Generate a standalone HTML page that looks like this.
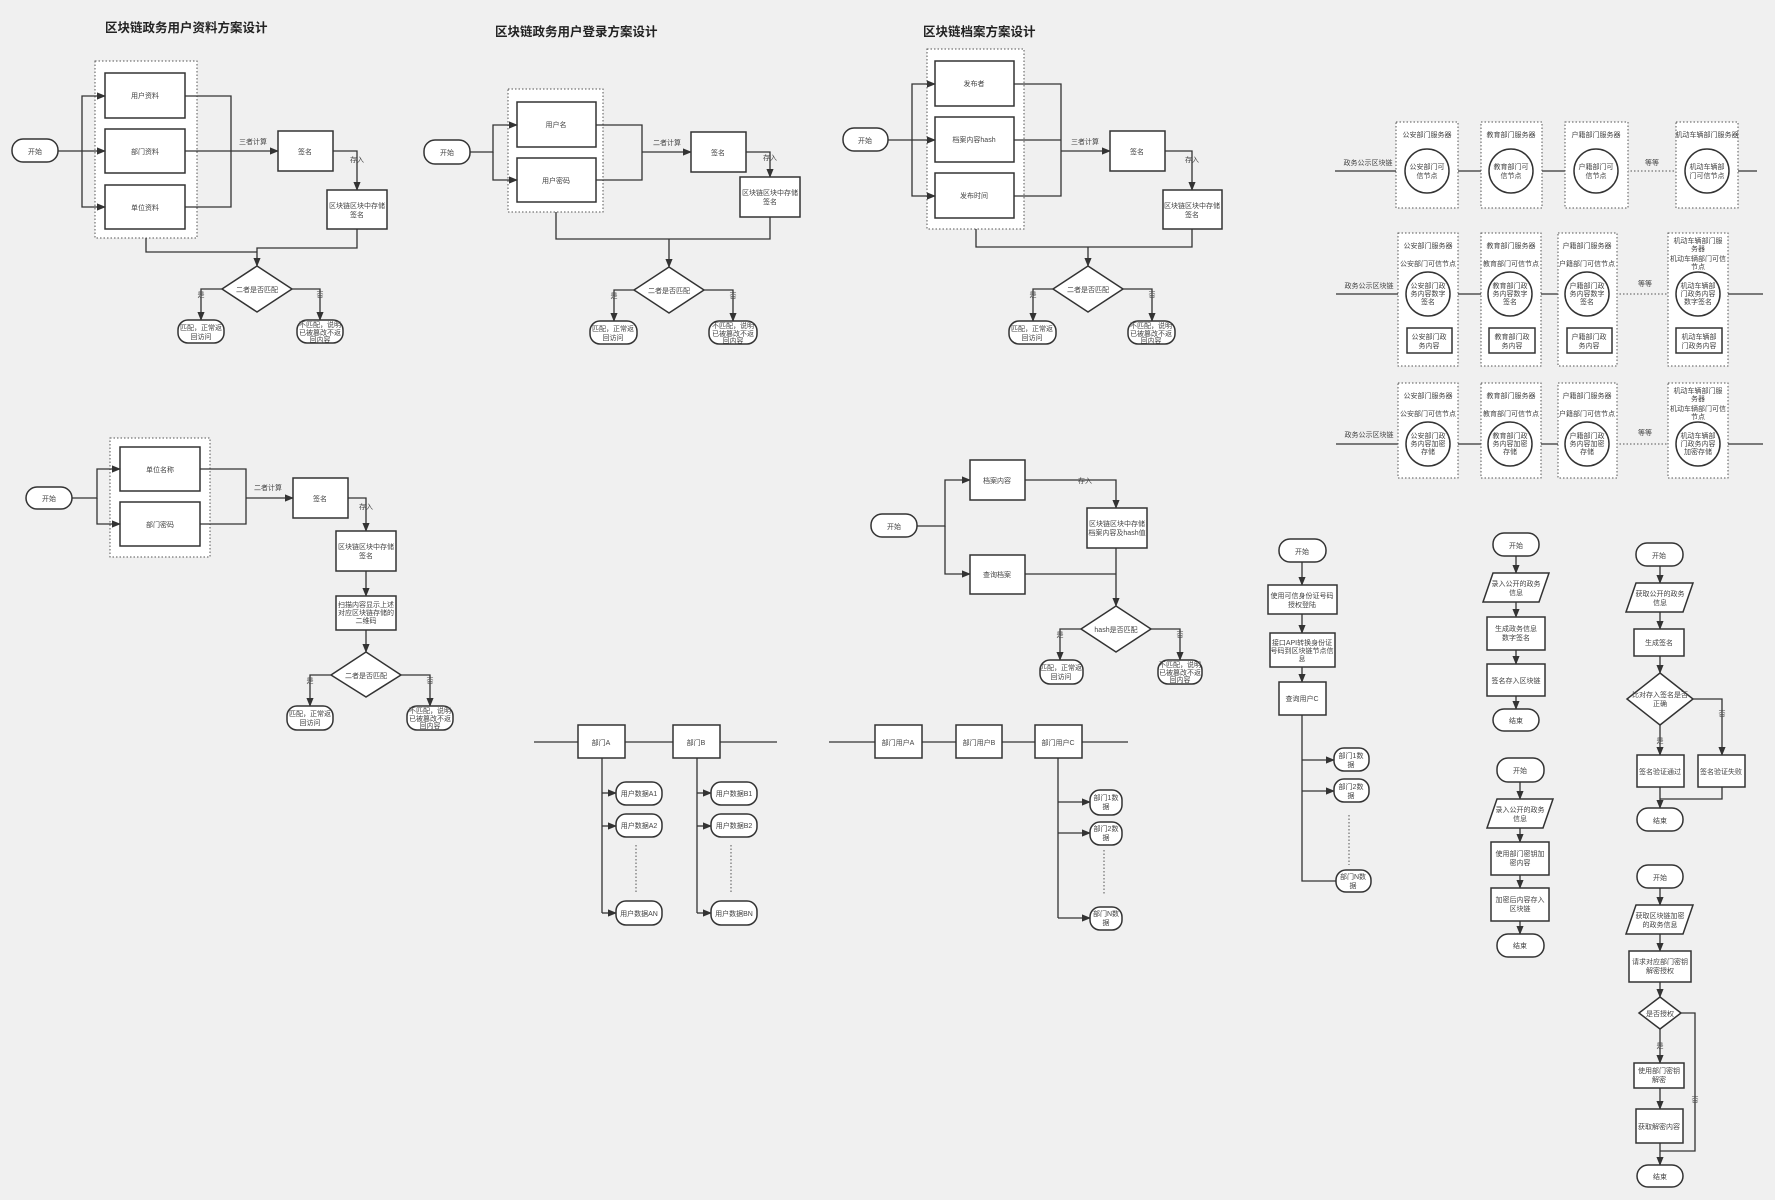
<!DOCTYPE html>
<html><head><meta charset="utf-8"><style>
html,body{margin:0;padding:0;background:#f0f0f0;}
svg{display:block;font-family:"Liberation Sans","Noto Sans CJK SC",sans-serif;}
.b{fill:#fff;stroke:#333;stroke-width:1.5}
.d{fill:#fff;stroke:#555;stroke-width:1;stroke-dasharray:1.5 2}
.l{fill:none;stroke:#333;stroke-width:1.3}
.dl{fill:none;stroke:#555;stroke-width:1;stroke-dasharray:1.5 2}
text{font-size:7px;fill:#444;text-anchor:middle}
.t{font-size:12.5px;font-weight:bold;fill:#222;text-anchor:start}
</style></head><body>
<svg width="1775" height="1200" viewBox="0 0 1775 1200" xmlns="http://www.w3.org/2000/svg">
<defs><marker id="a" viewBox="0 0 10 10" refX="9" refY="5" markerWidth="7" markerHeight="7" orient="auto"><path d="M0,1L10,5L0,9z" fill="#333"/></marker></defs>
<rect width="1775" height="1200" fill="#f0f0f0"/>

<!-- Section 1 -->
<text class="t" x="105" y="32">区块链政务用户资料方案设计</text>
<rect class="d" x="95" y="61" width="102" height="177"/>
<rect class="b" x="105" y="73" width="80" height="45"/><text x="145" y="98">用户资料</text>
<rect class="b" x="105" y="129" width="80" height="44"/><text x="145" y="154">部门资料</text>
<rect class="b" x="105" y="185" width="80" height="44"/><text x="145" y="210">单位资料</text>
<rect class="b" x="12" y="139" width="46" height="23" rx="11"/><text x="35" y="154">开始</text>
<path class="l" d="M58,151H105" marker-end="url(#a)"/>
<path class="l" d="M82,151V96H105" marker-end="url(#a)"/>
<path class="l" d="M82,151V207H105" marker-end="url(#a)"/>
<path class="l" d="M185,96H231V207H185M185,151H278" marker-end="url(#a)"/>
<text x="253" y="144">三者计算</text>
<rect class="b" x="278" y="131" width="55" height="40"/><text x="305" y="154">签名</text>
<path class="l" d="M333,151H357V190" marker-end="url(#a)"/>
<text x="357" y="162">存入</text>
<rect class="b" x="327" y="190" width="60" height="39"/><text x="357" y="208">区块链区块中存储</text><text x="357" y="217">签名</text>
<path class="l" d="M146,238V252H257M357,229V248H257V266" marker-end="url(#a)"/>
<path class="b" d="M257,266L292,289L257,312L222,289z"/><text x="257" y="292">二者是否匹配</text>
<path class="l" d="M222,289H201V320" marker-end="url(#a)"/><text x="201" y="297">是</text>
<path class="l" d="M292,289H320V320" marker-end="url(#a)"/><text x="320" y="297">否</text>
<rect class="b" x="178" y="320" width="46" height="23" rx="10"/><text x="201" y="330">匹配，正常返</text><text x="201" y="339">回访问</text>
<rect class="b" x="297" y="320" width="46" height="23" rx="10"/><text x="320" y="327">不匹配，说明</text><text x="320" y="335">已被篡改不返</text><text x="320" y="342">回内容</text>

<!-- Section 2 -->
<text class="t" x="495" y="36">区块链政务用户登录方案设计</text>
<rect class="d" x="508" y="89" width="95" height="123"/>
<rect class="b" x="517" y="102" width="79" height="45"/><text x="556" y="127">用户名</text>
<rect class="b" x="517" y="158" width="79" height="44"/><text x="556" y="183">用户密码</text>
<rect class="b" x="424" y="140" width="46" height="24" rx="11"/><text x="447" y="155">开始</text>
<path class="l" d="M470,152H493V125H517" marker-end="url(#a)"/>
<path class="l" d="M493,152V180H517" marker-end="url(#a)"/>
<path class="l" d="M596,125H642V180H596M642,152H691" marker-end="url(#a)"/>
<text x="667" y="145">二者计算</text>
<rect class="b" x="691" y="132" width="55" height="40"/><text x="718" y="155">签名</text>
<path class="l" d="M746,152H770V177" marker-end="url(#a)"/>
<text x="770" y="160">存入</text>
<rect class="b" x="740" y="177" width="60" height="40"/><text x="770" y="195">区块链区块中存储</text><text x="770" y="204">签名</text>
<path class="l" d="M556,212V239H669M770,217V239H669V267" marker-end="url(#a)"/>
<path class="b" d="M669,267L704,290L669,313L634,290z"/><text x="669" y="293">二者是否匹配</text>
<path class="l" d="M634,290H614V321" marker-end="url(#a)"/><text x="614" y="298">是</text>
<path class="l" d="M704,290H733V321" marker-end="url(#a)"/><text x="733" y="298">否</text>
<rect class="b" x="590" y="321" width="47" height="23" rx="10"/><text x="613" y="331">匹配，正常返</text><text x="613" y="340">回访问</text>
<rect class="b" x="709" y="321" width="48" height="23" rx="10"/><text x="733" y="328">不匹配，说明</text><text x="733" y="336">已被篡改不返</text><text x="733" y="343">回内容</text>

<!-- Section 3 -->
<text class="t" x="923" y="36">区块链档案方案设计</text>
<rect class="d" x="927" y="49" width="97" height="180"/>
<rect class="b" x="935" y="61" width="79" height="45"/><text x="974" y="86">发布者</text>
<rect class="b" x="935" y="117" width="79" height="45"/><text x="974" y="142">档案内容hash</text>
<rect class="b" x="935" y="173" width="79" height="45"/><text x="974" y="198">发布时间</text>
<rect class="b" x="843" y="128" width="45" height="23" rx="11"/><text x="865" y="143">开始</text>
<path class="l" d="M888,140H935" marker-end="url(#a)"/>
<path class="l" d="M912,140V84H935" marker-end="url(#a)"/>
<path class="l" d="M912,140V196H935" marker-end="url(#a)"/>
<path class="l" d="M1014,84H1061V196H1014M1014,140H1061V151H1110" marker-end="url(#a)"/>
<text x="1085" y="144">三者计算</text>
<rect class="b" x="1110" y="131" width="55" height="40"/><text x="1137" y="154">签名</text>
<path class="l" d="M1165,151H1192V190" marker-end="url(#a)"/>
<text x="1192" y="162">存入</text>
<rect class="b" x="1163" y="190" width="59" height="39"/><text x="1192" y="208">区块链区块中存储</text><text x="1192" y="217">签名</text>
<path class="l" d="M976,229V247H1088M1192,229V247H1088V266" marker-end="url(#a)"/>
<path class="b" d="M1088,266L1123,289L1088,312L1053,289z"/><text x="1088" y="292">二者是否匹配</text>
<path class="l" d="M1053,289H1033V321" marker-end="url(#a)"/><text x="1033" y="297">是</text>
<path class="l" d="M1123,289H1152V321" marker-end="url(#a)"/><text x="1152" y="297">否</text>
<rect class="b" x="1009" y="321" width="47" height="23" rx="10"/><text x="1032" y="331">匹配，正常返</text><text x="1032" y="340">回访问</text>
<rect class="b" x="1128" y="321" width="47" height="23" rx="10"/><text x="1151" y="328">不匹配，说明</text><text x="1151" y="336">已被篡改不返</text><text x="1151" y="343">回内容</text>

<!-- Section 4 -->
<rect class="d" x="110" y="438" width="100" height="119"/>
<rect class="b" x="120" y="447" width="80" height="44"/><text x="160" y="472">单位名称</text>
<rect class="b" x="120" y="502" width="80" height="44"/><text x="160" y="527">部门密码</text>
<rect class="b" x="26" y="487" width="46" height="22" rx="11"/><text x="49" y="501">开始</text>
<path class="l" d="M72,498H97V469H120" marker-end="url(#a)"/>
<path class="l" d="M97,498V524H120" marker-end="url(#a)"/>
<path class="l" d="M200,469H246V524H200M246,498H293" marker-end="url(#a)"/>
<text x="268" y="490">二者计算</text>
<rect class="b" x="293" y="478" width="55" height="40"/><text x="320" y="501">签名</text>
<path class="l" d="M348,498H366V531" marker-end="url(#a)"/>
<text x="366" y="509">存入</text>
<rect class="b" x="336" y="531" width="60" height="40"/><text x="366" y="549">区块链区块中存储</text><text x="366" y="558">签名</text>
<path class="l" d="M366,571V596" marker-end="url(#a)"/>
<rect class="b" x="336" y="596" width="60" height="34"/><text x="366" y="607">扫描内容显示上述</text><text x="366" y="615">对应区块链存储的</text><text x="366" y="623">二维码</text>
<path class="l" d="M366,630V652" marker-end="url(#a)"/>
<path class="b" d="M366,652L401,675L366,697L331,675z"/><text x="366" y="678">二者是否匹配</text>
<path class="l" d="M331,675H310V706" marker-end="url(#a)"/><text x="310" y="683">是</text>
<path class="l" d="M401,675H430V706" marker-end="url(#a)"/><text x="430" y="683">否</text>
<rect class="b" x="287" y="706" width="46" height="24" rx="10"/><text x="310" y="716">匹配，正常返</text><text x="310" y="725">回访问</text>
<rect class="b" x="407" y="706" width="46" height="24" rx="10"/><text x="430" y="713">不匹配，说明</text><text x="430" y="721">已被篡改不返</text><text x="430" y="728">回内容</text>

<!-- Section 5 -->
<rect class="b" x="871" y="514" width="46" height="23" rx="11"/><text x="894" y="529">开始</text>
<path class="l" d="M917,526H945V480H970" marker-end="url(#a)"/>
<path class="l" d="M945,526V574H970" marker-end="url(#a)"/>
<rect class="b" x="970" y="460" width="55" height="40"/><text x="997" y="483">档案内容</text>
<rect class="b" x="970" y="555" width="55" height="39"/><text x="997" y="577">查询档案</text>
<path class="l" d="M1025,480H1116V508" marker-end="url(#a)"/>
<text x="1085" y="483">存入</text>
<rect class="b" x="1087" y="508" width="60" height="40"/><text x="1117" y="526">区块链区块中存储</text><text x="1117" y="535">档案内容及hash值</text>
<path class="l" d="M1025,574H1116M1116,548V606" marker-end="url(#a)"/>
<path class="b" d="M1116,606L1151,629L1116,652L1081,629z"/><text x="1116" y="632">hash是否匹配</text>
<path class="l" d="M1081,629H1060V660" marker-end="url(#a)"/><text x="1060" y="637">是</text>
<path class="l" d="M1151,629H1180V660" marker-end="url(#a)"/><text x="1180" y="637">否</text>
<rect class="b" x="1040" y="660" width="43" height="24" rx="10"/><text x="1061" y="670">匹配，正常返</text><text x="1061" y="679">回访问</text>
<rect class="b" x="1158" y="660" width="44" height="24" rx="10"/><text x="1180" y="667">不匹配，说明</text><text x="1180" y="675">已被篡改不返</text><text x="1180" y="682">回内容</text>

<!-- Section 6 -->
<path class="l" d="M534,742H777"/>
<rect class="b" x="578" y="725" width="47" height="33"/><text x="601" y="745">部门A</text>
<rect class="b" x="673" y="725" width="47" height="33"/><text x="696" y="745">部门B</text>
<path class="l" d="M602,758V913"/>
<path class="l" d="M602,793H616" marker-end="url(#a)"/><path class="l" d="M602,826H616" marker-end="url(#a)"/><path class="l" d="M602,913H616" marker-end="url(#a)"/>
<rect class="b" x="616" y="782" width="46" height="23" rx="10"/><text x="639" y="796">用户数据A1</text>
<rect class="b" x="616" y="814" width="46" height="23" rx="10"/><text x="639" y="828">用户数据A2</text>
<rect class="b" x="616" y="901" width="46" height="24" rx="10"/><text x="639" y="916">用户数据AN</text>
<path class="dl" d="M636,845V893"/>
<path class="l" d="M697,758V913"/>
<path class="l" d="M697,793H711" marker-end="url(#a)"/><path class="l" d="M697,826H711" marker-end="url(#a)"/><path class="l" d="M697,913H711" marker-end="url(#a)"/>
<rect class="b" x="711" y="782" width="46" height="23" rx="10"/><text x="734" y="796">用户数据B1</text>
<rect class="b" x="711" y="814" width="46" height="23" rx="10"/><text x="734" y="828">用户数据B2</text>
<rect class="b" x="711" y="901" width="46" height="24" rx="10"/><text x="734" y="916">用户数据BN</text>
<path class="dl" d="M731,845V893"/>

<!-- Section 7 -->
<path class="l" d="M829,742H1128"/>
<rect class="b" x="875" y="725" width="47" height="33"/><text x="898" y="745">部门用户A</text>
<rect class="b" x="956" y="725" width="46" height="33"/><text x="979" y="745">部门用户B</text>
<rect class="b" x="1035" y="725" width="47" height="33"/><text x="1058" y="745">部门用户C</text>
<path class="l" d="M1058,758V918"/>
<path class="l" d="M1058,802H1090" marker-end="url(#a)"/><path class="l" d="M1058,833H1090" marker-end="url(#a)"/><path class="l" d="M1058,918H1090" marker-end="url(#a)"/>
<rect class="b" x="1090" y="790" width="32" height="25" rx="10"/><text x="1106" y="800">部门1数</text><text x="1106" y="809">据</text>
<rect class="b" x="1090" y="822" width="32" height="23" rx="10"/><text x="1106" y="831">部门2数</text><text x="1106" y="840">据</text>
<rect class="b" x="1090" y="907" width="32" height="23" rx="10"/><text x="1106" y="916">部门N数</text><text x="1106" y="925">据</text>
<path class="dl" d="M1104,850V895"/>

<!-- Section 8 col A -->
<rect class="b" x="1279" y="539" width="47" height="23" rx="11"/><text x="1302" y="554">开始</text>
<path class="l" d="M1302,562V585" marker-end="url(#a)"/>
<rect class="b" x="1268" y="585" width="69" height="29"/><text x="1302" y="598">使用可信身份证号码</text><text x="1302" y="607">授权登陆</text>
<path class="l" d="M1302,614V633" marker-end="url(#a)"/>
<rect class="b" x="1270" y="633" width="65" height="34"/><text x="1302" y="645">接口API转换身份证</text><text x="1302" y="653">号码到区块链节点信</text><text x="1302" y="661">息</text>
<path class="l" d="M1302,667V682" marker-end="url(#a)"/>
<rect class="b" x="1279" y="682" width="47" height="33"/><text x="1302" y="701">查询用户C</text>
<path class="l" d="M1302,715V881H1336"/>
<path class="l" d="M1302,760H1334" marker-end="url(#a)"/><path class="l" d="M1302,791H1334" marker-end="url(#a)"/>
<rect class="b" x="1334" y="748" width="35" height="23" rx="10"/><text x="1351" y="758">部门1数</text><text x="1351" y="767">据</text>
<rect class="b" x="1334" y="779" width="35" height="23" rx="10"/><text x="1351" y="789">部门2数</text><text x="1351" y="798">据</text>
<rect class="b" x="1336" y="870" width="35" height="22" rx="10"/><text x="1353" y="879">部门N数</text><text x="1353" y="888">据</text>
<path class="dl" d="M1349,815V865"/>

<!-- col B -->
<rect class="b" x="1493" y="533" width="46" height="23" rx="11"/><text x="1516" y="548">开始</text>
<path class="l" d="M1516,556V573" marker-end="url(#a)"/>
<path class="b" d="M1493,573H1549L1539,602H1483z"/><text x="1516" y="586">录入公开的政务</text><text x="1516" y="595">信息</text>
<path class="l" d="M1516,602V617" marker-end="url(#a)"/>
<rect class="b" x="1487" y="617" width="58" height="33"/><text x="1516" y="631">生成政务信息</text><text x="1516" y="640">数字签名</text>
<path class="l" d="M1516,650V664" marker-end="url(#a)"/>
<rect class="b" x="1487" y="664" width="58" height="32"/><text x="1516" y="683">签名存入区块链</text>
<path class="l" d="M1516,696V709" marker-end="url(#a)"/>
<rect class="b" x="1493" y="709" width="46" height="22" rx="11"/><text x="1516" y="723">结束</text>

<rect class="b" x="1497" y="758" width="47" height="24" rx="11"/><text x="1520" y="773">开始</text>
<path class="l" d="M1520,782V799" marker-end="url(#a)"/>
<path class="b" d="M1497,799H1553L1543,828H1487z"/><text x="1520" y="812">录入公开的政务</text><text x="1520" y="821">信息</text>
<path class="l" d="M1520,828V842" marker-end="url(#a)"/>
<rect class="b" x="1491" y="842" width="58" height="33"/><text x="1520" y="856">使用部门密钥加</text><text x="1520" y="865">密内容</text>
<path class="l" d="M1520,875V888" marker-end="url(#a)"/>
<rect class="b" x="1491" y="888" width="58" height="33"/><text x="1520" y="902">加密后内容存入</text><text x="1520" y="911">区块链</text>
<path class="l" d="M1520,921V934" marker-end="url(#a)"/>
<rect class="b" x="1497" y="934" width="47" height="23" rx="11"/><text x="1520" y="948">结束</text>

<!-- col C -->
<rect class="b" x="1636" y="543" width="47" height="23" rx="11"/><text x="1659" y="558">开始</text>
<path class="l" d="M1660,566V583" marker-end="url(#a)"/>
<path class="b" d="M1636,583H1693L1683,612H1626z"/><text x="1660" y="596">获取公开的政务</text><text x="1660" y="605">信息</text>
<path class="l" d="M1660,612V629" marker-end="url(#a)"/>
<rect class="b" x="1634" y="629" width="50" height="27"/><text x="1659" y="645">生成签名</text>
<path class="l" d="M1660,656V673" marker-end="url(#a)"/>
<path class="b" d="M1660,673L1693,699L1660,725L1627,699z"/><text x="1660" y="697">比对存入签名是否</text><text x="1660" y="706">正确</text>
<path class="l" d="M1660,725V755" marker-end="url(#a)"/><text x="1660" y="743">是</text>
<path class="l" d="M1693,699H1722V755" marker-end="url(#a)"/><text x="1722" y="716">否</text>
<rect class="b" x="1637" y="755" width="47" height="32"/><text x="1660" y="774">签名验证通过</text>
<rect class="b" x="1698" y="755" width="47" height="32"/><text x="1721" y="774">签名验证失败</text>
<path class="l" d="M1722,787V799H1660M1660,787V808" marker-end="url(#a)"/>
<rect class="b" x="1637" y="808" width="46" height="23" rx="11"/><text x="1660" y="823">结束</text>

<rect class="b" x="1637" y="865" width="46" height="23" rx="11"/><text x="1660" y="880">开始</text>
<path class="l" d="M1660,888V905" marker-end="url(#a)"/>
<path class="b" d="M1636,905H1693L1683,934H1626z"/><text x="1660" y="918">获取区块链加密</text><text x="1660" y="927">的政务信息</text>
<path class="l" d="M1660,934V951" marker-end="url(#a)"/>
<rect class="b" x="1629" y="951" width="62" height="31"/><text x="1660" y="964">请求对应部门密钥</text><text x="1660" y="973">解密授权</text>
<path class="l" d="M1660,982V997" marker-end="url(#a)"/>
<path class="b" d="M1660,997L1681,1013L1660,1029L1639,1013z"/><text x="1660" y="1016">是否授权</text>
<path class="l" d="M1660,1029V1063" marker-end="url(#a)"/><text x="1660" y="1048">是</text>
<rect class="b" x="1634" y="1063" width="50" height="25"/><text x="1659" y="1073">使用部门密钥</text><text x="1659" y="1082">解密</text>
<path class="l" d="M1660,1088V1109" marker-end="url(#a)"/>
<rect class="b" x="1636" y="1109" width="47" height="34"/><text x="1659" y="1129">获取解密内容</text>
<path class="l" d="M1681,1013H1695V1151H1660M1660,1143V1165" marker-end="url(#a)"/><text x="1695" y="1102">否</text>
<rect class="b" x="1637" y="1165" width="46" height="22" rx="11"/><text x="1660" y="1179">结束</text>

<!-- Section 9 -->
<path class="l" d="M1335,171H1620M1677,171H1757"/><path class="dl" d="M1620,171H1677"/>
<text x="1368" y="165">政务公示区块链</text><text x="1652" y="165">等等</text>
<rect class="d" x="1396" y="122" width="62" height="86"/><rect class="d" x="1481" y="122" width="61" height="86"/><rect class="d" x="1565" y="122" width="63" height="86"/><rect class="d" x="1676" y="122" width="62" height="86"/>
<text x="1427" y="137">公安部门服务器</text><text x="1511" y="137">教育部门服务器</text><text x="1596" y="137">户籍部门服务器</text><text x="1707" y="137">机动车辆部门服务器</text>
<circle class="b" cx="1427" cy="171" r="22"/><circle class="b" cx="1511" cy="171" r="22"/><circle class="b" cx="1596" cy="171" r="22"/><circle class="b" cx="1707" cy="171" r="22"/>
<text x="1427" y="169">公安部门可</text><text x="1427" y="178">信节点</text>
<text x="1511" y="169">教育部门可</text><text x="1511" y="178">信节点</text>
<text x="1596" y="169">户籍部门可</text><text x="1596" y="178">信节点</text>
<text x="1707" y="169">机动车辆部</text><text x="1707" y="178">门可信节点</text>

<path class="l" d="M1336,294H1609M1668,294H1763"/><path class="dl" d="M1609,294H1668"/>
<text x="1369" y="288">政务公示区块链</text><text x="1645" y="286">等等</text>
<rect class="d" x="1398" y="233" width="60" height="133"/><rect class="d" x="1481" y="233" width="60" height="133"/><rect class="d" x="1558" y="233" width="59" height="133"/><rect class="d" x="1668" y="233" width="60" height="133"/>
<text x="1428" y="248">公安部门服务器</text><text x="1428" y="266">公安部门可信节点</text>
<text x="1511" y="248">教育部门服务器</text><text x="1511" y="266">教育部门可信节点</text>
<text x="1587" y="248">户籍部门服务器</text><text x="1587" y="266">户籍部门可信节点</text>
<text x="1698" y="243">机动车辆部门服</text><text x="1698" y="251">务器</text><text x="1698" y="261">机动车辆部门可信</text><text x="1698" y="269">节点</text>
<circle class="b" cx="1428" cy="294" r="22"/><circle class="b" cx="1510" cy="294" r="22"/><circle class="b" cx="1587" cy="294" r="22"/><circle class="b" cx="1698" cy="294" r="22"/>
<text x="1428" y="288">公安部门政</text><text x="1428" y="296">务内容数字</text><text x="1428" y="304">签名</text>
<text x="1510" y="288">教育部门政</text><text x="1510" y="296">务内容数字</text><text x="1510" y="304">签名</text>
<text x="1587" y="288">户籍部门政</text><text x="1587" y="296">务内容数字</text><text x="1587" y="304">签名</text>
<text x="1698" y="288">机动车辆部</text><text x="1698" y="296">门政务内容</text><text x="1698" y="304">数字签名</text>
<rect class="b" x="1407" y="328" width="45" height="25"/><rect class="b" x="1489" y="328" width="46" height="25"/><rect class="b" x="1567" y="328" width="45" height="25"/><rect class="b" x="1676" y="328" width="46" height="25"/>
<text x="1429" y="339">公安部门政</text><text x="1429" y="348">务内容</text>
<text x="1512" y="339">教育部门政</text><text x="1512" y="348">务内容</text>
<text x="1589" y="339">户籍部门政</text><text x="1589" y="348">务内容</text>
<text x="1699" y="339">机动车辆部</text><text x="1699" y="348">门政务内容</text>

<path class="l" d="M1336,444H1609M1668,444H1763"/><path class="dl" d="M1609,444H1668"/>
<text x="1369" y="437">政务公示区块链</text><text x="1645" y="435">等等</text>
<rect class="d" x="1398" y="383" width="60" height="95"/><rect class="d" x="1481" y="383" width="60" height="95"/><rect class="d" x="1558" y="383" width="59" height="95"/><rect class="d" x="1668" y="383" width="60" height="95"/>
<text x="1428" y="398">公安部门服务器</text><text x="1428" y="416">公安部门可信节点</text>
<text x="1511" y="398">教育部门服务器</text><text x="1511" y="416">教育部门可信节点</text>
<text x="1587" y="398">户籍部门服务器</text><text x="1587" y="416">户籍部门可信节点</text>
<text x="1698" y="393">机动车辆部门服</text><text x="1698" y="401">务器</text><text x="1698" y="411">机动车辆部门可信</text><text x="1698" y="419">节点</text>
<circle class="b" cx="1428" cy="444" r="22"/><circle class="b" cx="1510" cy="444" r="22"/><circle class="b" cx="1587" cy="444" r="22"/><circle class="b" cx="1698" cy="444" r="22"/>
<text x="1428" y="438">公安部门政</text><text x="1428" y="446">务内容加密</text><text x="1428" y="454">存储</text>
<text x="1510" y="438">教育部门政</text><text x="1510" y="446">务内容加密</text><text x="1510" y="454">存储</text>
<text x="1587" y="438">户籍部门政</text><text x="1587" y="446">务内容加密</text><text x="1587" y="454">存储</text>
<text x="1698" y="438">机动车辆部</text><text x="1698" y="446">门政务内容</text><text x="1698" y="454">加密存储</text>
</svg>
</body></html>
